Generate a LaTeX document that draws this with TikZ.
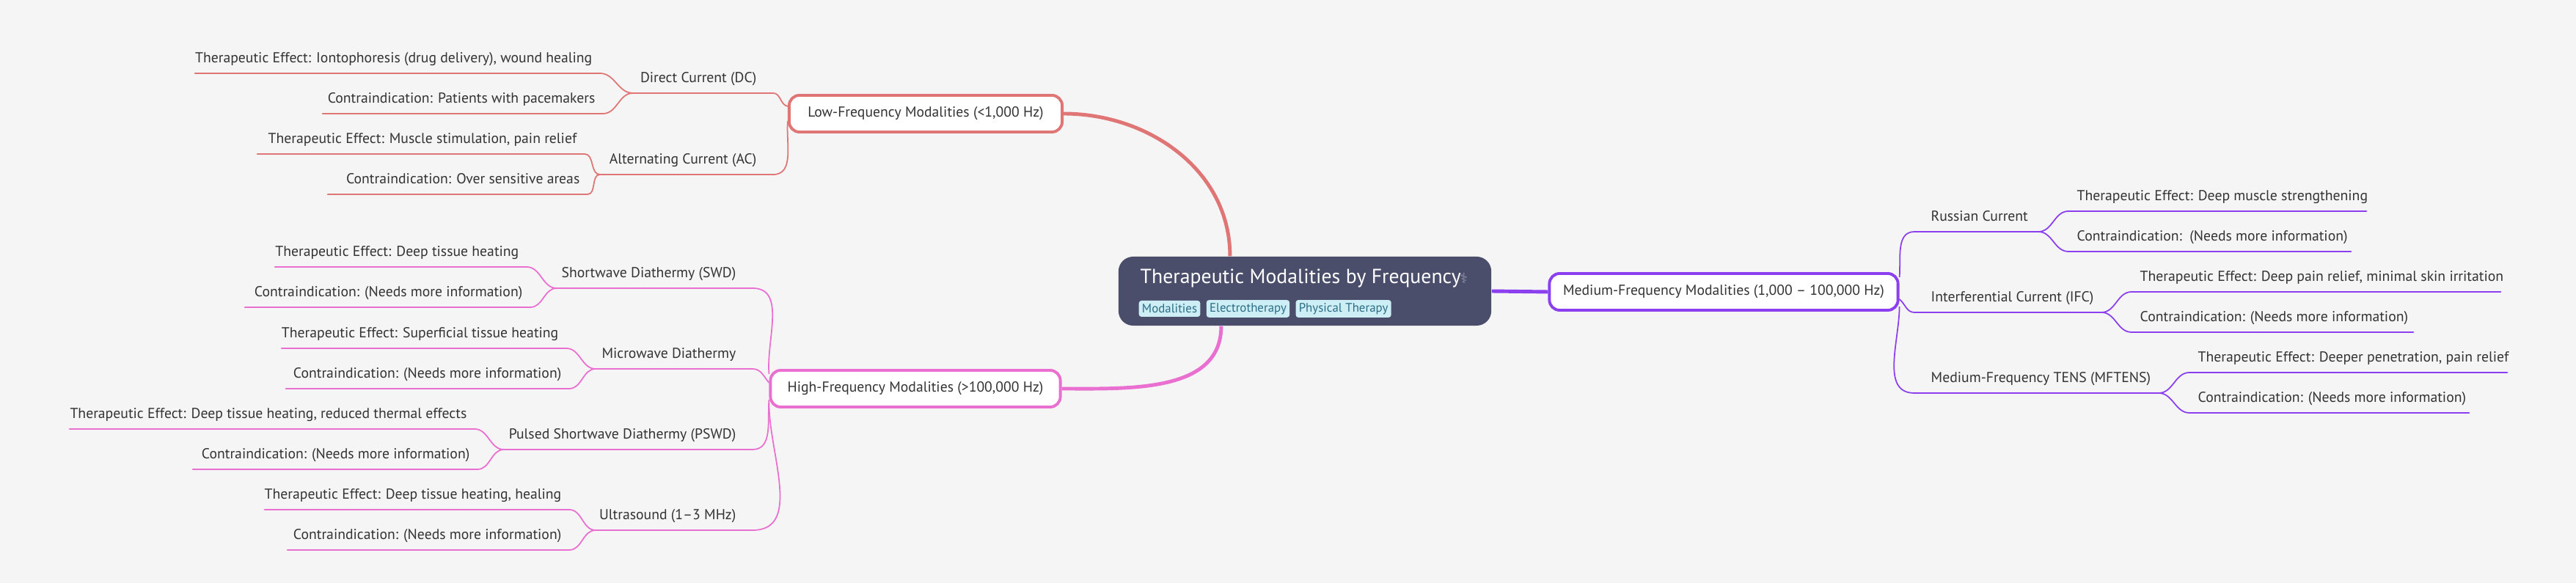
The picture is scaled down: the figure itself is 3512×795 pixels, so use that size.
\documentclass[tikz,border=0pt]{standalone}
\usepackage{fontspec}
\setmainfont{PT Sans}
\newfontfamily\symf{DejaVu Sans}
\definecolor{bg}{HTML}{F5F5F5}
\definecolor{cred}{HTML}{E07575}
\definecolor{cpink}{HTML}{E96FD0}
\definecolor{cpurp}{HTML}{8B3FEE}
\definecolor{cfill}{HTML}{4B4E6B}
\definecolor{tagfill}{HTML}{CDEEF5}
\definecolor{tagtxt}{HTML}{2B6E86}
\definecolor{txt}{HTML}{333333}
\newcommand\lfont{\fontsize{5.6}{6.5}\selectfont}
\tikzset{
  lbl/.style={font=\lfont, text=txt, inner sep=0pt},
  uline/.style={line width=0.8pt, line cap=round},
  branch/.style={line width=0.5pt},
  mainc/.style={line width=1.4pt},
  boxn/.style={draw, line width=1.1pt, fill=white, rounded corners=0.14cm, minimum height=0.5cm, inner sep=0pt, font=\lfont, text=txt},
  tagn/.style={fill=tagfill, rounded corners=1pt, inner sep=1.2pt, minimum height=0.22cm, text=tagtxt, font=\fontsize{4.8}{5.5}\selectfont},
}
% name, xl, xr, y, text, color
\newcommand\leafL[6]{%
  \draw[uline,#6] (#2,#4) coordinate (#1-l) -- (#3,#4) coordinate (#1-r);
  \node[lbl,anchor=base east] (#1) at (#3-10,#4-14) {#5};}
\newcommand\leafR[6]{%
  \draw[uline,#6] (#2,#4) coordinate (#1-l) -- (#3,#4) coordinate (#1-r);
  \node[lbl,anchor=base west] (#1) at (#2+11,#4-14) {#5};}
\newcommand\kidL[6]{%
  \draw[uline,#6] (#2,#4) coordinate (#1-l) -- (#3,#4) coordinate (#1-r);
  \node[lbl,anchor=base east] (#1) at (#3-22,#4-14) {#5};}
\newcommand\kidR[6]{%
  \draw[uline,#6] (#2,#4) coordinate (#1-l) -- (#3,#4) coordinate (#1-r);
  \node[lbl,anchor=base west] (#1) at (#2+22,#4-14) {#5};}
\begin{document}
\begin{tikzpicture}[x=0.01cm,y=-0.01cm]
\fill[bg] (0,0) rectangle (3512,795);
\useasboundingbox (0,0) rectangle (3512,795);

% central
\node[fill=cfill, rounded corners=0.2cm, minimum width=5.08cm, minimum height=0.94cm, inner sep=0pt] (center) at (1779,397) {};
\node[anchor=base west, inner sep=0pt, text=white, font=\fontsize{7.9}{9}\selectfont] (title) at (1554,387) {Therapeutic Modalities by Frequency};
\node[anchor=west, inner sep=0pt, text=cfill!60!white, font=\symf\fontsize{5.5}{6}\selectfont] (icon) at (1990,380) {⚕};
\node[tagn, anchor=west] (t1) at (1552,421) {Modalities};
\node[tagn, anchor=west] (t2) at ([xshift=0.07cm]t1.east) {Electrotherapy};
\node[tagn, anchor=west] (t3) at ([xshift=0.07cm]t2.east) {Physical Therapy};

% main boxes
\node[boxn, draw=cred, minimum width=3.72cm] (low) at (1262,155) {Low-Frequency Modalities (<1,000 Hz)};
\node[boxn, draw=cpink, minimum width=3.95cm] (high) at (1248,530) {High-Frequency Modalities (>100,000 Hz)};
\node[boxn, draw=cpurp, minimum width=4.75cm] (med) at (2350,398) {Medium-Frequency Modalities (1,000 – 100,000 Hz)};

\draw[mainc,cred] ([xshift=-1.02cm]center.north) to[out=90,in=0] (low.east);
\draw[mainc,cpink] ([xshift=-1.14cm]center.south) to[out=-90,in=0] (high.east);
\draw[mainc,cpurp] (center.east) -- (med.west);

% low branch
\kidL{dc}{863}{1054}{127}{Direct Current (DC)}{cred}
\kidL{ac}{818}{1054}{238}{Alternating Current (AC)}{cred}
\leafL{dcte}{266}{818}{100}{Therapeutic Effect: Iontophoresis (drug delivery), wound healing}{cred}
\leafL{dcci}{440}{822}{155}{Contraindication: Patients with pacemakers}{cred}
\leafL{acte}{351}{797}{210}{Therapeutic Effect: Muscle stimulation, pain relief}{cred}
\leafL{acci}{447}{801}{265}{Contraindication: Over sensitive areas}{cred}
\draw[branch,cred] ([yshift=0.1cm]low.west) to[out=170,in=0] (dc-r);
\draw[branch,cred] ([yshift=-0.1cm]low.west) to[out=-95,in=0] (ac-r);
\draw[branch,cred] (dcte-r) to[out=0,in=180] (dc-l);
\draw[branch,cred] (dcci-r) to[out=0,in=180] (dc-l);
\draw[branch,cred] (acte-r) to[out=0,in=180] (ac-l);
\draw[branch,cred] (acci-r) to[out=0,in=180] (ac-l);

% high branch
\kidL{swd}{759}{1026}{393}{Shortwave Diathermy (SWD)}{cpink}
\kidL{mwd}{812}{1026}{503}{Microwave Diathermy}{cpink}
\kidL{pswd}{687}{1026}{613}{Pulsed Shortwave Diathermy (PSWD)}{cpink}
\kidL{us}{812}{1026}{723}{Ultrasound (1–3 MHz)}{cpink}
\leafL{swdte}{375}{718}{364}{Therapeutic Effect: Deep tissue heating}{cpink}
\leafL{swdci}{334}{723}{419}{Contraindication: (Needs more information)}{cpink}
\leafL{mwdte}{384}{772}{475}{Therapeutic Effect: Superficial tissue heating}{cpink}
\leafL{mwdci}{390}{776}{530}{Contraindication: (Needs more information)}{cpink}
\leafL{pswdte}{95}{647}{585}{Therapeutic Effect: Deep tissue heating, reduced thermal effects}{cpink}
\leafL{pswdci}{263}{651}{640}{Contraindication: (Needs more information)}{cpink}
\leafL{uste}{361}{776}{695}{Therapeutic Effect: Deep tissue heating, healing}{cpink}
\leafL{usci}{392}{776}{750}{Contraindication: (Needs more information)}{cpink}
\draw[branch,cpink] ([yshift=0.2cm]high.west) to[out=95,in=0] (swd-r);
\draw[branch,cpink] ([yshift=0.08cm]high.west) to[out=130,in=0] (mwd-r);
\draw[branch,cpink] ([yshift=-0.15cm]high.west) to[out=-95,in=0] (pswd-r);
\draw[branch,cpink] ([yshift=-0.2cm]high.west) to[out=-90,in=0] (us-r);
\foreach \a/\b in {swdte/swd,swdci/swd,mwdte/mwd,mwdci/mwd,pswdte/pswd,pswdci/pswd,uste/us,usci/us}
  \draw[branch,cpink] (\a-r) to[out=0,in=180] (\b-l);

% medium branch
\kidR{rus}{2610}{2779}{316}{Russian Current}{cpurp}
\kidR{ifc}{2610}{2865}{426}{Interferential Current (IFC)}{cpurp}
\kidR{mft}{2610}{2943}{536}{Medium-Frequency TENS (MFTENS)}{cpurp}
\leafR{huste}{2820}{3226}{288}{Therapeutic Effect: Deep muscle strengthening}{cpurp}
\leafR{husci}{2820}{3205}{343}{Contraindication:\ \ (Needs more information)}{cpurp}
\leafR{ifcte}{2906}{3409}{398}{Therapeutic Effect: Deep pain relief, minimal skin irritation}{cpurp}
\leafR{ifcci}{2906}{3290}{453}{Contraindication: (Needs more information)}{cpurp}
\leafR{mftte}{2985}{3418}{508}{Therapeutic Effect: Deeper penetration, pain relief}{cpurp}
\leafR{mftci}{2985}{3366}{563}{Contraindication: (Needs more information)}{cpurp}
\draw[branch,cpurp] ([yshift=0.2cm]med.east) to[out=85,in=180] (rus-l);
\draw[branch,cpurp] ([yshift=-0.1cm]med.east) to[out=-40,in=180] (ifc-l);
\draw[branch,cpurp] ([yshift=-0.2cm]med.east) to[out=-90,in=180] (mft-l);
\foreach \a/\b in {huste/rus,husci/rus,ifcte/ifc,ifcci/ifc,mftte/mft,mftci/mft}
  \draw[branch,cpurp] (\b-r) to[out=0,in=180] (\a-l);
\end{tikzpicture}
\end{document}
